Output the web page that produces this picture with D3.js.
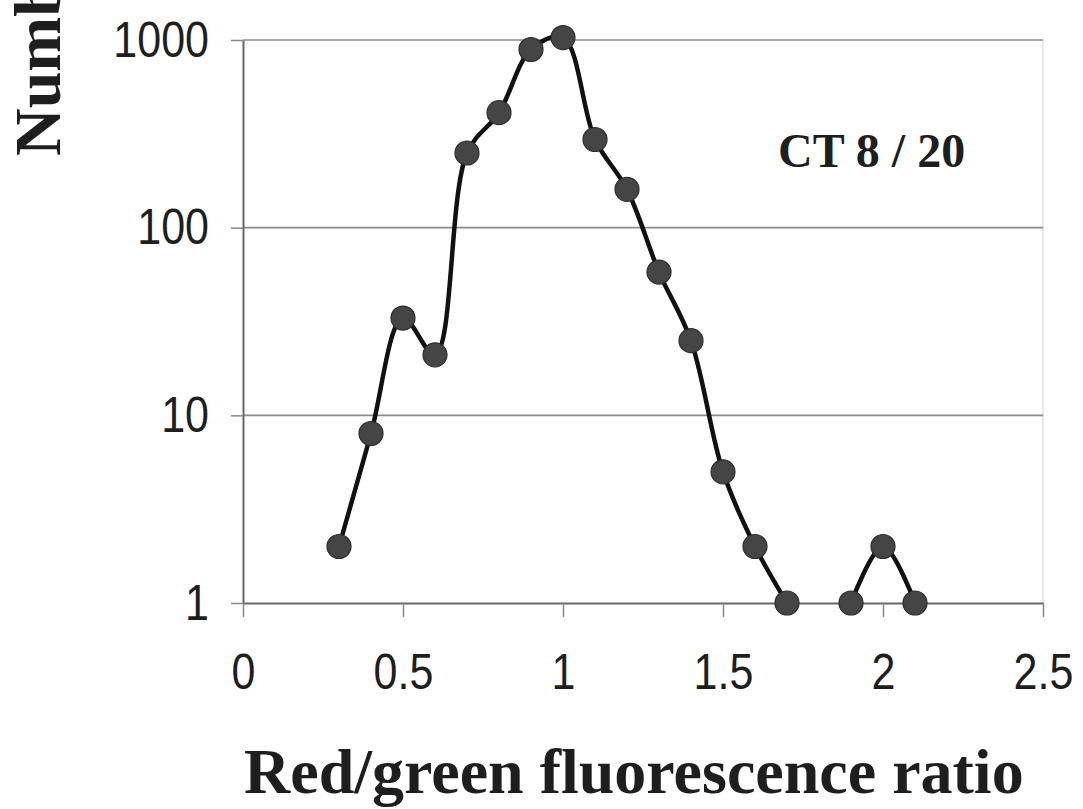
<!DOCTYPE html>
<html>
<head>
<meta charset="utf-8">
<script src="https://cdn.jsdelivr.net/npm/d3@7"></script>
<style>
  html, body { margin: 0; padding: 0; background: #fff; }
  svg { display: block; }
</style>
</head>
<body>
<svg id="chart" width="1083" height="809"></svg>
<script>
// ---- data ----
const ratios = [0.3, 0.4, 0.5, 0.6, 0.7, 0.8, 0.9, 1.0, 1.1, 1.2, 1.3, 1.4, 1.5, 1.6, 1.7, 1.8, 1.9, 2.0, 2.1];
const counts = [2, 8, 33, 21, 250, 410, 890, 1030, 295, 160, 58, 25, 5, 2, 1, null, 1, 2, 1];
const xTicks = [0, 0.5, 1, 1.5, 2, 2.5];
const yTicks = [1, 10, 100, 1000];
const xTitle = "Red/green fluorescence ratio";
const yTitle = "Number of cells";
const label = "CT 8 / 20";

const W = 1083, H = 809;
const svg = d3.select("#chart");
svg.append("rect").attr("width", W).attr("height", H).attr("fill", "#fff");

const x = d3.scaleLinear().domain([0, 2.5]).range([243, 1043]);
const y = d3.scaleLog().domain([1, 1000]).range([603, 40]);

const data = ratios.map((r, i) => ({ r, c: counts[i] }));

// right border (faint)
svg.append("line")
  .attr("x1", x(2.5)).attr("x2", x(2.5))
  .attr("y1", y(1000)).attr("y2", y(1))
  .attr("stroke", "#e2e2e2").attr("stroke-width", 1.5);

// grid lines
svg.append("g")
  .selectAll("line")
  .data(yTicks.filter(t => t > 1))
  .join("line")
  .attr("x1", x(0)).attr("x2", x(2.5))
  .attr("y1", d => y(d)).attr("y2", d => y(d))
  .attr("stroke", "#8a8a8a").attr("stroke-width", 1.6);

const tickFont = "'Liberation Sans', Arial, sans-serif";

// y axis
const yAxis = svg.append("g")
  .attr("transform", `translate(${x(0)},0)`)
  .call(d3.axisLeft(y).tickValues(yTicks).tickFormat(d3.format("d")).tickSize(12).tickSizeOuter(0));
yAxis.select(".domain").attr("stroke", "#666").attr("stroke-width", 2);
yAxis.selectAll(".tick line").attr("stroke", "#888").attr("stroke-width", 1.5);
yAxis.selectAll(".tick text")
  .attr("x", 0).attr("dy", null).attr("y", 0)
  .attr("transform", "translate(-34,16) scale(1,1.16)")
  .attr("text-anchor", "end")
  .attr("fill", "#1e1e1e")
  .style("font-family", tickFont).style("font-size", "43px");

// x axis
const xAxis = svg.append("g")
  .attr("transform", `translate(0,${y(1)})`)
  .call(d3.axisBottom(x).tickValues(xTicks).tickFormat(d => d3.format("")(d)).tickSize(14).tickSizeOuter(0));
xAxis.select(".domain").attr("stroke", "#666").attr("stroke-width", 2);
xAxis.selectAll(".tick line").attr("stroke", "#888").attr("stroke-width", 1.5);
xAxis.selectAll(".tick text")
  .attr("y", 0).attr("dy", null)
  .attr("transform", "translate(0,86) scale(1,1.16)")
  .attr("fill", "#1e1e1e")
  .style("font-family", tickFont).style("font-size", "43px");
svg.selectAll(".tick text").attr("font-family", null).attr("font-size", null);

// line
const line = d3.line()
  .defined(d => d.c != null)
  .x(d => x(d.r))
  .y(d => y(d.c))
  .curve(d3.curveCatmullRom.alpha(0.5));

svg.append("path")
  .datum(data)
  .attr("d", line)
  .attr("fill", "none")
  .attr("stroke", "#111")
  .attr("stroke-width", 4.5)
  .attr("stroke-linejoin", "round");

// markers
svg.append("g")
  .selectAll("circle")
  .data(data.filter(d => d.c != null))
  .join("circle")
  .attr("cx", d => x(d.r))
  .attr("cy", d => y(d.c))
  .attr("r", 12)
  .attr("fill", "#454545")
  .attr("stroke", "#2e2e2e")
  .attr("stroke-width", 1.2);

const serif = "'Liberation Serif', 'Times New Roman', serif";

// annotation
svg.append("text")
  .attr("x", 778).attr("y", 167)
  .attr("fill", "#1e1e1e")
  .style("font-family", serif).style("font-weight", "bold").style("font-size", "48px")
  .text(label);

// x title
svg.append("text")
  .attr("x", 244).attr("y", 793)
  .attr("fill", "#1e1e1e")
  .style("font-family", serif).style("font-weight", "bold").style("font-size", "64px")
  .text(xTitle);

// y title (cut off at top, as in the reference)
svg.append("text")
  .attr("transform", "translate(60,156) rotate(-90)")
  .attr("text-anchor", "start")
  .attr("fill", "#1e1e1e")
  .style("font-family", serif).style("font-weight", "bold").style("font-size", "66px")
  .text(yTitle);
</script>
</body>
</html>
